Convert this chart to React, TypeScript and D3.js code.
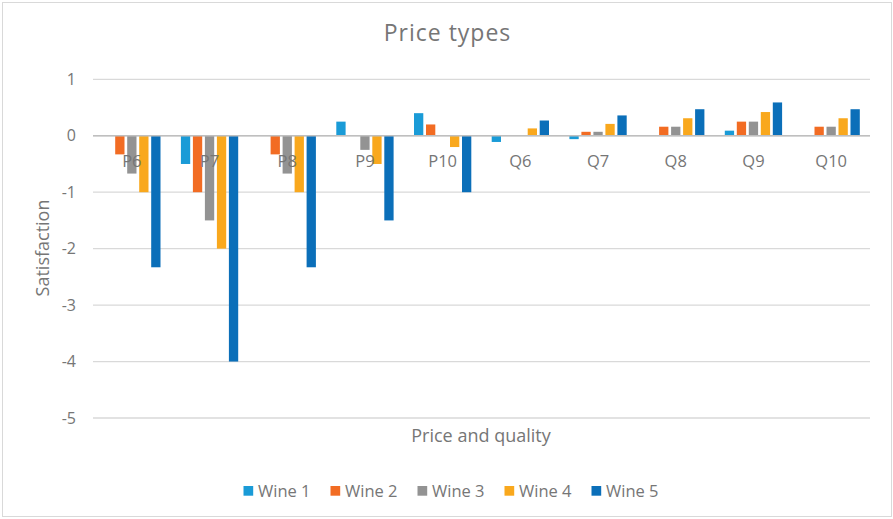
import * as d3 from "d3";
import React from "react";

const categories = ["P6", "P7", "P8", "P9", "P10", "Q6", "Q7", "Q8", "Q9", "Q10"];
const seriesNames = ["Wine 1", "Wine 2", "Wine 3", "Wine 4", "Wine 5"];
const wine1 = [0, -0.5, 0, 0.25, 0.4, -0.11, -0.06, 0, 0.09, 0];
const wine2 = [-0.33, -1, -0.33, 0, 0.2, 0, 0.07, 0.16, 0.25, 0.16];
const wine3 = [-0.67, -1.5, -0.67, -0.25, 0, 0, 0.07, 0.16, 0.25, 0.16];
const wine4 = [-1, -2, -1, -0.5, -0.2, 0.13, 0.21, 0.31, 0.42, 0.31];
const wine5 = [-2.33, -4, -2.33, -1.5, -1, 0.27, 0.36, 0.47, 0.59, 0.47];
const yTicks = [1, 0, -1, -2, -3, -4, -5];
const colors = ["#1a9bd7", "#f26c23", "#939393", "#f9a81d", "#0b6fb9"];

const allSeries = [wine1, wine2, wine3, wine4, wine5];

const App = () => {
    const width = 893, height = 519;
    const left = 93, right = 870, top = 79.3, bottom = 418;
    const font = "'Open Sans', sans-serif";
    const textColor = "#767676";

    const x0 = d3.scaleBand().domain(categories).range([left, right]).padding(0);
    const groupWidth = 57.3;
    const x1 = d3.scaleBand().domain(seriesNames).range([0, groupWidth]).paddingInner(0.225).paddingOuter(0);
    const y = d3.scaleLinear().domain([1, -5]).range([top, bottom]);
    const offset = (x0.bandwidth() - groupWidth) / 2;

    return (
        <svg width={width} height={height} style={{ position: "absolute", left: 0, top: 0, background: "#fff" }}>
            <rect x={2.5} y={2.5} width={889} height={514} fill="#fff" stroke="#d9d9d9" />
            <text x={447.5} y={41} textAnchor="middle" fontFamily={font} fontSize={23} letterSpacing={1} fill={textColor}>Price types</text>

            {yTicks.map((t) => (
                <g key={t}>
                    <line x1={left} x2={right} y1={y(t)} y2={y(t)} stroke="#d9d9d9" strokeWidth={1.3} />
                    <text x={76} y={y(t) + 5.5} textAnchor="end" fontFamily={font} fontSize={16} fill={textColor}>{t}</text>
                </g>
            ))}

            {allSeries.map((vals, si) => (
                <g key={si}>
                    {vals.map((v, ci) => (
                        <rect key={ci}
                            x={(x0(categories[ci]) as number) + offset + (x1(seriesNames[si]) as number)}
                            y={y(Math.max(0, v))}
                            width={x1.bandwidth()}
                            height={Math.abs(y(v) - y(0))}
                            fill={colors[si]} />
                    ))}
                </g>
            ))}

            <line x1={left} x2={right} y1={y(0)} y2={y(0)} stroke="#bfbfbf" strokeWidth={1.3} />

            {categories.map((c) => (
                <text key={c} x={(x0(c) as number) + x0.bandwidth() / 2} y={166.5} textAnchor="middle"
                    fontFamily={font} fontSize={16.5} fill={textColor}>{c}</text>
            ))}

            <text transform={`translate(49,248) rotate(-90)`} textAnchor="middle" fontFamily={font} fontSize={18} fill={textColor}>Satisfaction</text>
            <text x={481} y={442} textAnchor="middle" fontFamily={font} fontSize={18} fill={textColor}>Price and quality</text>

            {seriesNames.map((s, i) => (
                <g key={s} transform={`translate(${243.5 + i * 87},486)`}>
                    <rect x={0} y={0} width={9.7} height={9.7} fill={colors[i]} />
                    <text x={14.5} y={10.5} fontFamily={font} fontSize={16.5} fill={textColor}>{s}</text>
                </g>
            ))}
        </svg>
    );
};

export default App;
